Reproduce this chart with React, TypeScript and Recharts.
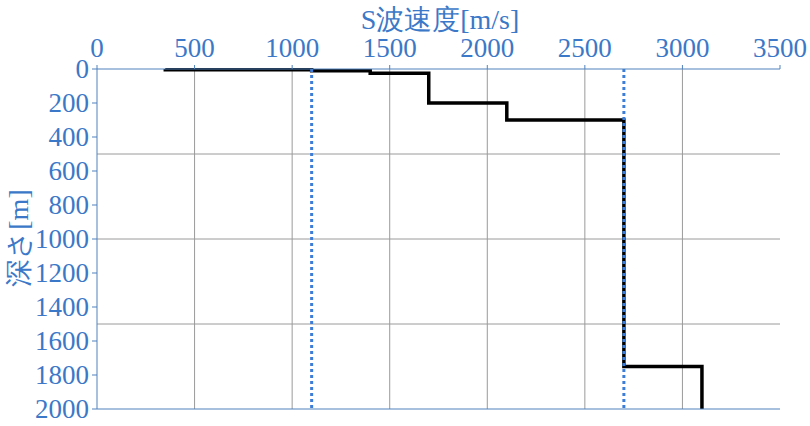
import { ComposedChart, Line, XAxis, YAxis, ReferenceLine, Label } from "recharts";

// S-wave velocity of each layer [m/s] and layer boundaries [m]
const layerVelocities = [350, 1100, 1400, 1700, 2100, 2700, 3100];
const layerBoundaries = [0, 5, 10, 25, 200, 300, 1750, 2000];
const refVelocities = [1100, 2700];

const velocityTicks = [0, 500, 1000, 1500, 2000, 2500, 3000, 3500];
const depthTicks = [0, 200, 400, 600, 800, 1000, 1200, 1400, 1600, 1800, 2000];
const gridVelocities = [500, 1000, 1500, 2000, 2500, 3000];
const gridDepths = [500, 1000, 1500];

// step profile: vertical at each layer's velocity from its top to bottom
const profile = layerVelocities.flatMap((v, i) => [
  { v, d: layerBoundaries[i] },
  { v, d: layerBoundaries[i + 1] },
]);

const textColor = "#3b78c8";
const axisColor = "#4f81bd";
const font = '"Times New Roman", "Liberation Serif", "DejaVu Serif", serif';

const TopTick = ({ x, y, payload }: any) => (
  <text x={x} y={y - 8} textAnchor="middle" fill={textColor} fontSize={27} style={{ fontFamily: font }}>
    {payload.value}
  </text>
);

const LeftTick = ({ x, y, payload }: any) => (
  <text x={x - 3} y={y} dy={9} textAnchor="end" fill={textColor} fontSize={27} style={{ fontFamily: font }}>
    {payload.value}
  </text>
);

export default function App() {
  return (
    <div style={{ position: "absolute", left: 0, top: 0, width: 810, height: 426, background: "#fff", fontFamily: font }}>
      <ComposedChart
        width={810}
        height={426}
        margin={{ top: 0, right: 30, bottom: 0, left: 0 }}
      >
        <XAxis
          xAxisId="top"
          orientation="top"
          type="number"
          dataKey="v"
          domain={[0, 3500]}
          ticks={velocityTicks}
          height={69}
          stroke={axisColor}
          tickSize={4}
          tickMargin={0}
          tick={<TopTick />}
        >
          <Label
            content={() => (
              <text x={440} y={29} textAnchor="middle" fill={textColor} fontSize={28} style={{ fontFamily: font }}>
                S波速度[m/s]
              </text>
            )}
          />
        </XAxis>
        <XAxis
          xAxisId="bottom"
          orientation="bottom"
          type="number"
          dataKey="v"
          domain={[0, 3500]}
          ticks={velocityTicks}
          height={17}
          stroke={axisColor}
          tickSize={5}
          tickFormatter={() => ""}
        />
        <YAxis
          type="number"
          dataKey="d"
          reversed
          domain={[0, 2000]}
          ticks={depthTicks}
          width={97}
          stroke={axisColor}
          tickSize={5}
          tickMargin={0}
          interval={0}
          tick={<LeftTick />}
        >
          <Label
            content={() => (
              <text
                x={28}
                y={238}
                transform="rotate(-90 28 238)"
                textAnchor="middle"
                fill={textColor}
                fontSize={28}
                style={{ fontFamily: font }}
              >
                深さ[m]
              </text>
            )}
          />
        </YAxis>
        {gridVelocities.map((x) => (
          <ReferenceLine key={"gx" + x} xAxisId="top" x={x} stroke="#9a9a9a" strokeWidth={1} />
        ))}
        {gridDepths.map((y) => (
          <ReferenceLine key={"gy" + y} xAxisId="top" y={y} stroke="#9a9a9a" strokeWidth={1} />
        ))}
        <Line
          xAxisId="top"
          data={profile}
          dataKey="d"
          type="linear"
          stroke="#000"
          strokeWidth={3.5}
          dot={false}
          isAnimationActive={false}
        />
        {refVelocities.map((x) => (
          <ReferenceLine
            key={"r" + x}
            xAxisId="top"
            x={x}
            stroke="#3c7dd9"
            strokeWidth={3}
            strokeDasharray="3 3"
          />
        ))}
      </ComposedChart>
    </div>
  );
}
